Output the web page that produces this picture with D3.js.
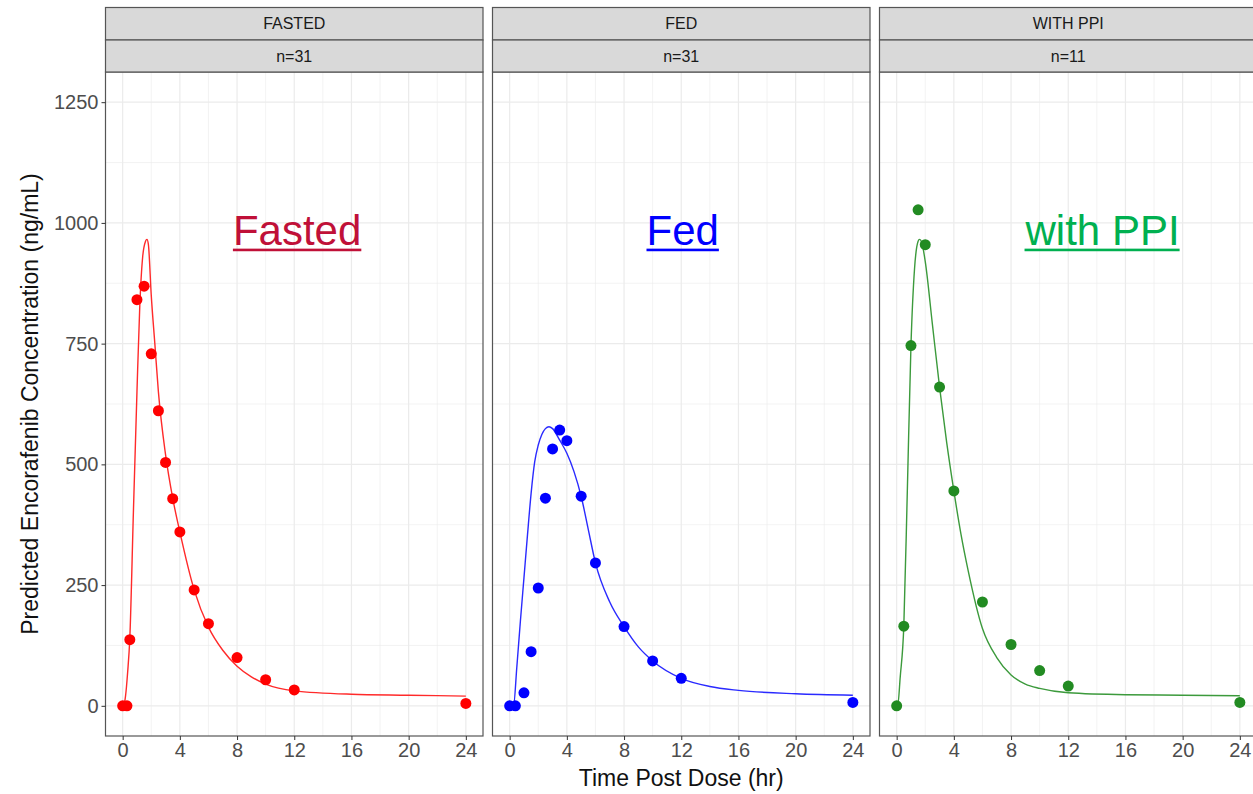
<!DOCTYPE html>
<html>
<head>
<meta charset="utf-8">
<script src="https://cdn.jsdelivr.net/npm/d3@7"></script>
<style>
    body { margin: 0; background: #fff; }
    svg { display: block; font-family: "Liberation Sans", Arial, sans-serif; }
</style>
</head>
<body>
<div id="chart"></div>
<script>

// DATA
// ================================================================================== //

const panelTitles = ["FASTED", "FED", "WITH PPI"];
const panelCounts = ["n=31", "n=31", "n=11"];
const annotationText = ["Fasted", "Fed", "with PPI"];

const xTicks = [0, 4, 8, 12, 16, 20, 24];
const yTicks = [0, 250, 500, 750, 1000, 1250];

// observed points (hr, ng/mL)
const fastedTime = [0, 0.3, 0.5, 1, 1.5, 2, 2.5, 3, 3.5, 4, 5, 6, 8, 10, 12, 24];
const fastedConc = [0, 0, 137, 841, 869, 729, 611, 504, 429, 360, 240, 170, 100, 54, 33, 5];

const fedTime = [0, 0.4, 1, 1.5, 2, 2.5, 3, 3.5, 4, 5, 6, 8, 10, 12, 24];
const fedConc = [0, 0, 27, 112, 244, 430, 532, 571, 549, 434, 296, 164, 93, 57, 7];

const ppiTime = [0, 0.5, 1, 1.5, 2, 3, 4, 6, 8, 10, 12, 24];
const ppiConc = [0, 165, 746, 1027, 955, 660, 445, 215, 127, 73, 41, 7];

// predicted curves (hr, ng/mL)
const fastedCurveTime = [0, 0.1, 0.2, 0.35, 0.5, 0.75, 1, 1.2, 1.4, 1.6, 1.7, 1.8, 2, 2.25, 2.5, 3, 3.5, 4, 5, 6, 7, 8, 9, 10, 12, 16, 20, 24];
const fastedCurveConc = [0, 3, 20, 70, 140, 400, 650, 830, 930, 962, 966, 955, 850, 750, 650, 520, 430, 360, 240, 163, 115, 82, 60, 45, 31, 24, 22, 20];

const fedCurveTime = [0, 0.27, 0.5, 0.75, 1, 1.25, 1.5, 1.75, 2, 2.25, 2.5, 2.75, 3, 3.5, 4, 4.5, 5, 5.5, 6, 7, 8, 9, 10, 12, 14, 16, 20, 24];
const fedCurveConc = [0, 0, 80, 175, 265, 355, 440, 505, 540, 562, 574, 578, 574, 550, 523, 485, 434, 365, 296, 215, 164, 122, 93, 57, 40, 32, 25, 22];

const ppiCurveTime = [0, 0.07, 0.25, 0.5, 0.75, 1, 1.25, 1.5, 1.6, 1.75, 2, 2.5, 3, 3.5, 4, 4.5, 5, 6, 7, 8, 9, 10, 12, 16, 20, 24];
const ppiCurveConc = [0, 0, 60, 165, 450, 746, 905, 962, 966, 960, 920, 790, 660, 545, 445, 355, 280, 160, 100, 64, 45, 36, 27, 23, 22, 21];

const zip = (xs, ys) => xs.map((t, i) => ({ t: t, c: ys[i] }));

const PANELS = [
    { points: zip(fastedTime, fastedConc), curve: zip(fastedCurveTime, fastedCurveConc) },
    { points: zip(fedTime, fedConc), curve: zip(fedCurveTime, fedCurveConc) },
    { points: zip(ppiTime, ppiConc), curve: zip(ppiCurveTime, ppiCurveConc) },
];

// ================================================================================== //
// DATA END


// styles
const pointColors = ["#FF0000", "#0000FF", "#228B22"];
const lineColors = ["#FF2A2A", "#2A2AFF", "#3C9A3C"];
const labelColors = ["#C01038", "#0000FF", "#00B050"];
const labelPos = [{ t: 12.2, c: 955 }, { t: 12.1, c: 955 }, { t: 14.4, c: 955 }];

const width = 1253;
const height = 794;
const panelLeft = [105.5, 492.5, 879.5];
const panelW = 377.5;
const stripTop = 7.5;
const stripMid = 40;
const panelTop = 72;
const panelBottom = 736;

const x = d3.scaleLinear().domain([-1.2, 25.2]).range([0, panelW]);
const y = d3.scaleLinear().domain([-62.5, 1312.5]).range([panelBottom, panelTop]);

const svg = d3.select("#chart")
    .append("svg")
    .attr("width", width)
    .attr("height", height);

svg.append("rect").attr("width", width).attr("height", height).attr("fill", "#fff");

const line = d3.line()
    .x(d => x(d.t))
    .y(d => y(d.c))
    .curve(d3.curveMonotoneX);

PANELS.forEach((p, i) => {
    const g = svg.append("g").attr("transform", `translate(${panelLeft[i]},0)`);

    // grid
    const minorX = xTicks.slice(1).map(v => v - 2);
    const minorY = yTicks.slice(1).map(v => v - 125);
    g.selectAll(".gxm").data(minorX).enter().append("line")
        .attr("x1", d => x(d)).attr("x2", d => x(d))
        .attr("y1", panelTop).attr("y2", panelBottom)
        .attr("stroke", "#EBEBEB").attr("stroke-width", 0.6);
    g.selectAll(".gym").data(minorY).enter().append("line")
        .attr("x1", 0).attr("x2", panelW)
        .attr("y1", d => y(d)).attr("y2", d => y(d))
        .attr("stroke", "#EBEBEB").attr("stroke-width", 0.6);
    g.selectAll(".gx").data(xTicks).enter().append("line")
        .attr("x1", d => x(d)).attr("x2", d => x(d))
        .attr("y1", panelTop).attr("y2", panelBottom)
        .attr("stroke", "#EBEBEB").attr("stroke-width", 1.2);
    g.selectAll(".gy").data(yTicks).enter().append("line")
        .attr("x1", 0).attr("x2", panelW)
        .attr("y1", d => y(d)).attr("y2", d => y(d))
        .attr("stroke", "#EBEBEB").attr("stroke-width", 1.2);

    // predicted curve + observed points
    g.append("path")
        .datum(p.curve)
        .attr("d", line)
        .attr("fill", "none")
        .attr("stroke", lineColors[i])
        .attr("stroke-width", 1.4);

    g.selectAll("circle").data(p.points).enter().append("circle")
        .attr("cx", d => x(d.t))
        .attr("cy", d => y(d.c))
        .attr("r", 5.5)
        .attr("fill", pointColors[i]);

    // big label
    const lbl = g.append("text")
        .attr("x", x(labelPos[i].t))
        .attr("y", y(labelPos[i].c))
        .attr("text-anchor", "middle")
        .attr("font-size", 42)
        .attr("fill", labelColors[i])
        .text(annotationText[i]);
    const bb = lbl.node().getBBox();
    g.append("rect")
        .attr("x", bb.x).attr("y", y(labelPos[i].c) + 4)
        .attr("width", bb.width).attr("height", 2.6)
        .attr("fill", labelColors[i]);

    // border
    g.append("rect")
        .attr("x", 0).attr("y", panelTop)
        .attr("width", panelW).attr("height", panelBottom - panelTop)
        .attr("fill", "none").attr("stroke", "#555").attr("stroke-width", 1.2);

    // strips
    [[stripTop, stripMid, panelTitles[i]], [stripMid, panelTop, panelCounts[i]]].forEach(([y0, y1, txt]) => {
        g.append("rect")
            .attr("x", 0).attr("y", y0)
            .attr("width", panelW).attr("height", y1 - y0)
            .attr("fill", "#D9D9D9").attr("stroke", "#555").attr("stroke-width", 1.2);
        g.append("text")
            .attr("x", panelW / 2).attr("y", (y0 + y1) / 2)
            .attr("dy", "0.35em")
            .attr("text-anchor", "middle")
            .attr("font-size", 16)
            .attr("fill", "#1A1A1A")
            .text(txt);
    });

    // x axis
    g.append("g")
        .attr("transform", `translate(0,${panelBottom})`)
        .call(d3.axisBottom(x).tickValues(xTicks).tickSize(4).tickPadding(3).tickFormat(d3.format("d")))
        .call(a => a.select(".domain").remove())
        .call(a => a.selectAll(".tick line").attr("stroke", "#333"))
        .call(a => a.selectAll("text")
            .attr("font-size", 20)
            .attr("font-family", "Liberation Sans, Arial, sans-serif")
            .attr("fill", "#4D4D4D"));
});

// y axis (first panel only)
svg.append("g")
    .attr("transform", `translate(${panelLeft[0]},0)`)
    .call(d3.axisLeft(y).tickValues(yTicks).tickSize(4).tickPadding(3).tickFormat(d3.format("d")))
    .call(a => a.select(".domain").remove())
    .call(a => a.selectAll(".tick line").attr("stroke", "#333"))
    .call(a => a.selectAll("text")
        .attr("font-size", 20)
        .attr("font-family", "Liberation Sans, Arial, sans-serif")
        .attr("fill", "#4D4D4D"));

// axis titles
svg.append("text")
    .attr("x", panelLeft[1] + panelW / 2)
    .attr("y", 786)
    .attr("text-anchor", "middle")
    .attr("font-size", 23)
    .attr("fill", "#111")
    .text("Time Post Dose (hr)");

svg.append("text")
    .attr("transform", `translate(38,${(panelTop + panelBottom) / 2}) rotate(-90)`)
    .attr("text-anchor", "middle")
    .attr("font-size", 23)
    .attr("fill", "#111")
    .text("Predicted Encorafenib Concentration (ng/mL)");

</script>
</body>
</html>
